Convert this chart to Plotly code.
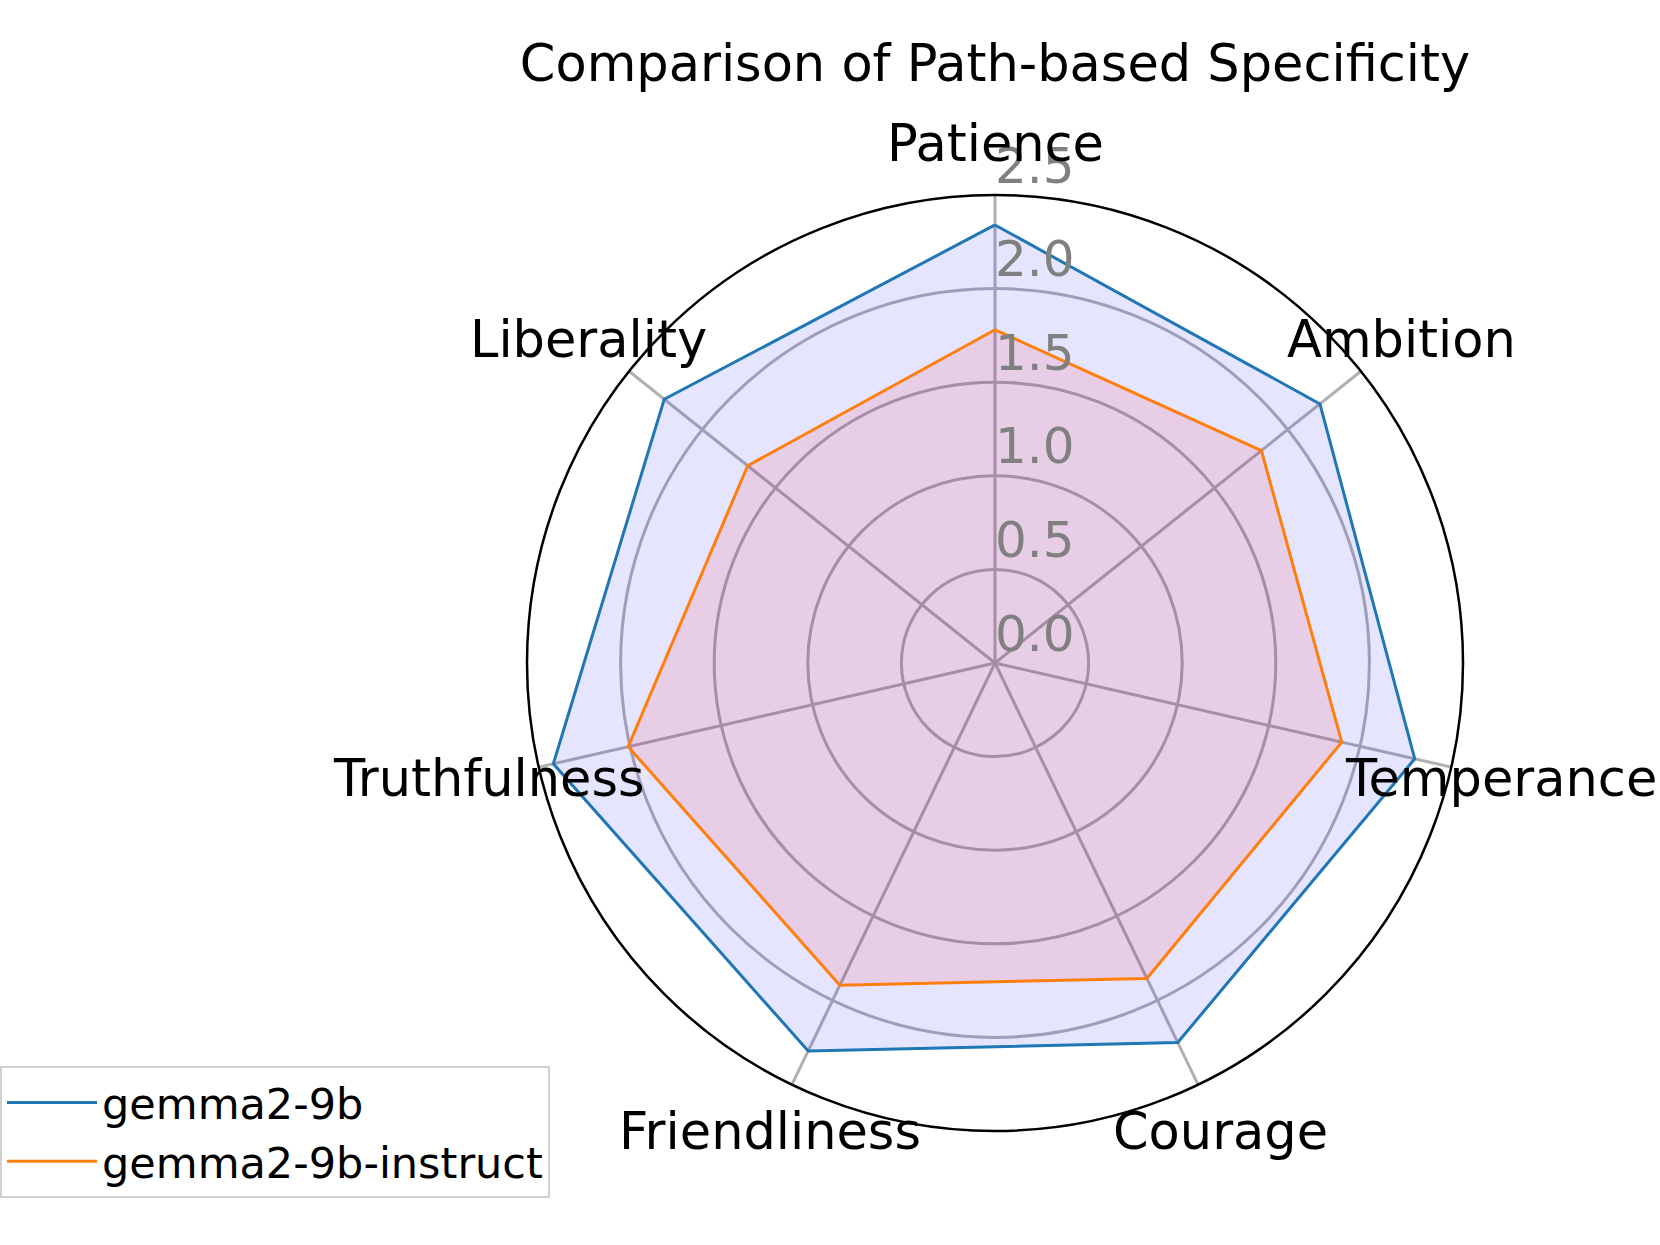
import math

import plotly.graph_objects as go

# values
CATEGORIES = ["Patience", "Ambition", "Temperance", "Courage", "Friendliness", "Truthfulness", "Liberality"]
GEMMA_BASE = [2.34, 2.22, 2.30, 2.25, 2.30, 2.42, 2.26]
GEMMA_INSTRUCT = [1.78, 1.82, 1.90, 1.87, 1.91, 2.01, 1.69]
RADIAL_TICKS = [0.0, 0.5, 1.0, 1.5, 2.0, 2.5]

W, H = 1660, 1245
CX, CY, R = 995, 663, 468
FONT = "DejaVu Sans"

DOMAIN_X = [(CX - R) / W, (CX + R) / W]
DOMAIN_Y = [1 - (CY + R) / H, 1 - (CY - R) / H]


def closed(values):
    return list(values) + [values[0]]


theta = closed(CATEGORIES)

fig = go.Figure()

series = [
    ("gemma2-9b", GEMMA_BASE, "#1f77b4", "rgba(0,0,255,0.1)"),
    ("gemma2-9b-instruct", GEMMA_INSTRUCT, "#ff7f0e", "rgba(255,0,0,0.1)"),
]
for name, values, line_color, fill_color in series:
    fig.add_trace(
        go.Scatterpolar(
            r=closed(values),
            theta=theta,
            mode="lines",
            fill="toself",
            fillcolor=fill_color,
            line={"width": 0, "color": fill_color},
            showlegend=False,
            hoverinfo="skip",
        )
    )
    fig.add_trace(
        go.Scatterpolar(
            r=closed(values),
            theta=theta,
            mode="lines",
            name=name,
            line={"color": line_color, "width": 3},
        )
    )

# radial tick labels sit just above/right of each ring on the Patience spoke
fig.add_trace(
    go.Scatterpolar(
        r=RADIAL_TICKS,
        theta=[CATEGORIES[0]] * len(RADIAL_TICKS),
        mode="text",
        text=[f"{v:.1f}" for v in RADIAL_TICKS],
        textposition="top right",
        textfont={"family": FONT, "size": 50, "color": "#808080"},
        showlegend=False,
        hoverinfo="skip",
    )
)

# category labels centred just outside the frame, like matplotlib does
annotations = []
n = len(CATEGORIES)
for i, label in enumerate(CATEGORIES):
    ang = 2 * math.pi * i / n
    px = CX + 1.11 * R * math.sin(ang)
    py = CY - 1.11 * R * math.cos(ang)
    annotations.append(
        {
            "text": label,
            "x": px / W,
            "y": 1 - py / H,
            "xref": "paper",
            "yref": "paper",
            "xanchor": "center",
            "yanchor": "middle",
            "showarrow": False,
            "font": {"family": FONT, "size": 51, "color": "black"},
        }
    )

fig.update_layout(
    width=W,
    height=H,
    paper_bgcolor="white",
    margin={"l": 0, "r": 0, "t": 0, "b": 0},
    font={"family": FONT, "color": "black"},
    title={
        "text": "Comparison of Path-based Specificity",
        "x": CX / W,
        "xanchor": "center",
        "y": 1 - 63 / H,
        "yanchor": "middle",
        "font": {"family": FONT, "size": 51, "color": "black"},
    },
    polar={
        "domain": {"x": DOMAIN_X, "y": DOMAIN_Y},
        "bgcolor": "white",
        "angularaxis": {
            "direction": "clockwise",
            "rotation": 90,
            "showticklabels": False,
            "ticks": "",
            "showline": True,
            "linecolor": "black",
            "linewidth": 2.5,
            "showgrid": True,
            "gridcolor": "#b0b0b0",
            "gridwidth": 2.5,
        },
        "radialaxis": {
            "range": [0, 2.5],
            "tickvals": RADIAL_TICKS,
            "showticklabels": False,
            "angle": 90,
            "ticks": "",
            "showline": False,
            "showgrid": True,
            "gridcolor": "#b0b0b0",
            "gridwidth": 2.5,
        },
    },
    legend={
        "x": 0.0,
        "y": 1 - 1198 / H,
        "xanchor": "left",
        "yanchor": "bottom",
        "bgcolor": "white",
        "bordercolor": "#d0d0d0",
        "borderwidth": 2,
        "font": {"family": FONT, "size": 43, "color": "black"},
        "itemwidth": 90,
    },
    annotations=annotations,
)

# drop the default 8px body margin so the figure sits flush in the window
fig.write_html(
    "out.html",
    config={"displayModeBar": False},
    post_script="document.body.style.margin = '0';",
)
